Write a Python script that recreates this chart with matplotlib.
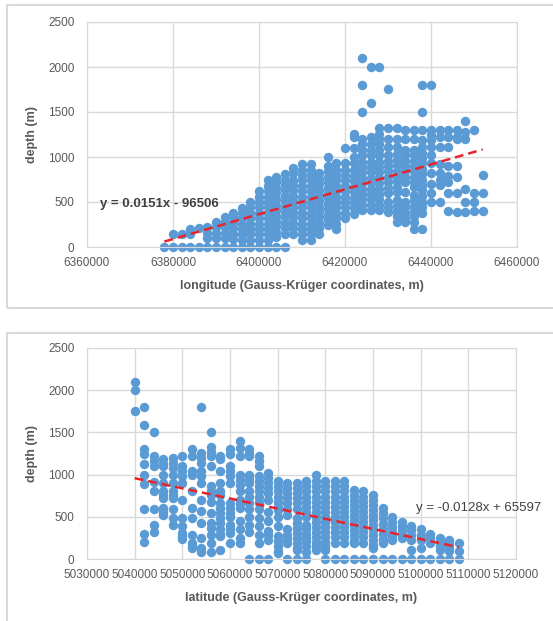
import numpy as np
import matplotlib
matplotlib.use("Agg")
import matplotlib.pyplot as plt
from matplotlib.patches import Rectangle

plt.rcParams['font.family'] = ['Liberation Sans', 'DejaVu Sans']

# top panel: longitude columns and the depths seen in each column
lon_x = [6378000, 6380000, 6382000, 6384000, 6386000, 6388000, 6390000, 6392000,
         6394000, 6396000, 6398000, 6400000, 6402000, 6404000, 6406000, 6408000,
         6410000, 6412000, 6414000, 6416000, 6418000, 6420000, 6422000, 6424000,
         6426000, 6428000, 6430000, 6432000, 6434000, 6436000, 6438000, 6440000,
         6442000, 6444000, 6446000, 6448000, 6450000, 6452000]
lon_depth = [
    [0],
    [0, 150],
    [0, 140],
    [0, 150, 200],
    [0, 210],
    [0, 100, 160, 220],
    [0, 100, 160, 220, 280],
    [0, 100, 160, 220, 280, 330],
    [0, 90, 150, 210, 270, 330, 380],
    [0, 80, 140, 200, 260, 320, 380, 430],
    [0, 80, 140, 200, 260, 320, 380, 440, 500],
    [0, 80, 140, 200, 260, 320, 380, 440, 500, 560, 620],
    [0, 80, 140, 200, 260, 320, 380, 440, 500, 560, 620, 680, 740],
    [0, 110, 170, 230, 290, 350, 410, 470, 530, 600, 660, 720, 780],
    [0, 150, 210, 270, 330, 390, 450, 510, 570, 630, 690, 750, 810],
    [150, 210, 270, 330, 390, 450, 510, 570, 630, 690, 750, 820, 880],
    [80, 140, 200, 260, 320, 380, 440, 500, 560, 620, 680, 740, 800, 860, 920],
    [80, 140, 200, 260, 320, 380, 440, 500, 560, 620, 680, 740, 800, 860, 920],
    [150, 210, 270, 330, 390, 450, 510, 570, 630, 700, 760, 820],
    [240, 300, 360, 420, 480, 540, 600, 660, 720, 780, 840, 900, 1000],
    [200, 260, 320, 380, 440, 500, 560, 620, 680, 740, 800, 860, 930],
    [320, 380, 440, 500, 560, 620, 680, 740, 800, 860, 930, 1100],
    [370, 430, 490, 550, 610, 670, 730, 790, 860, 930, 1000, 1100, 1220, 1260],
    [410, 470, 530, 590, 650, 710, 770, 830, 890, 950, 1020, 1080, 1140, 1200, 1500, 1800, 2100],
    [410, 470, 530, 590, 650, 710, 770, 830, 890, 950, 1020, 1080, 1140, 1220, 1600, 2000],
    [410, 470, 530, 590, 650, 710, 770, 830, 890, 950, 1020, 1080, 1140, 1200, 1260, 1320, 2000],
    [390, 440, 500, 600, 660, 720, 780, 840, 900, 960, 1020, 1110, 1200, 1320, 1750],
    [280, 340, 400, 460, 520, 610, 670, 730, 790, 850, 910, 970, 1030, 1110, 1200, 1320],
    [280, 320, 380, 440, 500, 610, 720, 780, 840, 900, 960, 1020, 1080, 1200, 1300],
    [200, 280, 340, 400, 460, 520, 580, 670, 720, 780, 840, 900, 960, 1020, 1080, 1200, 1300],
    [200, 380, 440, 500, 570, 630, 690, 750, 810, 870, 930, 990, 1050, 1110, 1190, 1300, 1500, 1800],
    [500, 600, 700, 820, 930, 1020, 1110, 1190, 1250, 1300, 1800],
    [500, 690, 740, 820, 920, 1110, 1220, 1300],
    [400, 600, 720, 790, 900, 1110, 1220, 1300],
    [390, 600, 780, 900, 1200, 1220, 1300],
    [390, 500, 650, 1200, 1280, 1400],
    [400, 500, 600, 1300],
    [400, 600, 800],
]

# bottom panel: latitude columns and depths
lat_x = [5040000, 5042000, 5044000, 5046000, 5048000, 5050000, 5052000, 5054000,
         5056000, 5058000, 5060000, 5062000, 5064000, 5066000, 5068000, 5070000,
         5072000, 5074000, 5076000, 5078000, 5080000, 5082000, 5084000, 5086000,
         5088000, 5090000, 5092000, 5094000, 5096000, 5098000, 5100000, 5102000,
         5104000, 5106000, 5108000]
lat_depth = [
    [2100, 2000, 1750],
    [1800, 1590, 1300, 1250, 1120, 1000, 890, 590, 300, 200],
    [1500, 1220, 1160, 1100, 910, 800, 590, 400, 320],
    [1180, 1130, 1100, 1000, 900, 800, 760, 720, 600, 560, 520],
    [1200, 1140, 1080, 1000, 900, 800, 760, 720, 590, 490, 400],
    [1220, 1100, 1040, 980, 900, 700, 490, 390, 310, 270, 240],
    [1300, 1220, 1040, 1000, 800, 600, 490, 290, 190, 150, 130],
    [1800, 1260, 1200, 1140, 1040, 980, 900, 700, 570, 430, 250, 130, 80],
    [1500, 1330, 1270, 1220, 1100, 860, 810, 760, 680, 550, 430, 370, 290, 190, 80],
    [1220, 1180, 1040, 900, 800, 760, 660, 600, 540, 480, 430, 350, 300, 270, 110],
    [1300, 1250, 1100, 1040, 980, 900, 660, 600, 550, 500, 400, 350, 310, 190],
    [1400, 1310, 1220, 1000, 940, 880, 800, 700, 650, 600, 450, 350, 250, 190],
    [1300, 1260, 1220, 1000, 950, 900, 800, 740, 660, 590, 500, 400, 320, 0],
    [1220, 1160, 1100, 980, 920, 860, 800, 740, 680, 590, 490, 390, 290, 190, 0],
    [1020, 960, 900, 840, 780, 700, 560, 450, 330, 280, 230, 0],
    [920, 860, 800, 740, 680, 620, 580, 500, 390, 270, 210, 150, 100, 70],
    [900, 840, 780, 720, 660, 590, 520, 350, 290, 240, 190, 0],
    [900, 840, 780, 720, 660, 590, 490, 430, 370, 310, 250, 190, 130, 110, 0],
    [920, 860, 800, 740, 680, 620, 560, 500, 400, 350, 300, 250, 210, 150, 80, 0],
    [1000, 920, 860, 800, 740, 680, 620, 560, 500, 440, 380, 320, 260, 200, 150, 110],
    [920, 860, 800, 740, 680, 620, 560, 500, 440, 380, 320, 260, 200, 150, 110, 0],
    [920, 860, 800, 740, 680, 620, 560, 500, 440, 380, 320, 260, 190, 0],
    [920, 860, 800, 740, 680, 620, 560, 500, 440, 380, 320, 260, 190, 0],
    [820, 760, 700, 640, 580, 520, 460, 400, 340, 280, 230, 190, 0],
    [800, 740, 680, 620, 560, 500, 440, 380, 320, 260, 190, 0],
    [760, 700, 640, 580, 520, 460, 400, 340, 280, 220, 170, 130, 0],
    [600, 540, 480, 420, 360, 300, 240, 190, 0],
    [500, 440, 380, 320, 270, 230, 0],
    [440, 390, 340, 290, 250, 0],
    [390, 340, 290, 230, 110, 0],
    [350, 290, 230, 130, 0],
    [300, 250, 190, 0],
    [250, 200, 150, 110, 0],
    [230, 180, 130, 90, 0],
    [190, 90, 0],
]

blue = '#5B9BD5'
grid_c = '#D9D9D9'
txt_c = '#595959'


def flatten(xs, ds):
    px, py = [], []
    for x, col in zip(xs, ds):
        for d in col:
            px.append(x)
            py.append(d)
    return np.array(px, float), np.array(py, float)


def style(ax, xlim, xstep, xlabel):
    ax.set_xlim(*xlim)
    ax.set_ylim(0, 2500)
    ax.set_xticks(np.arange(xlim[0], xlim[1] + 1, xstep))
    ax.set_yticks(np.arange(0, 2501, 500))
    ax.ticklabel_format(style='plain', useOffset=False)
    ax.grid(True, color=grid_c, linewidth=1)
    ax.set_axisbelow(True)
    for s in ax.spines.values():
        s.set_color(grid_c)
    ax.tick_params(length=0, labelsize=8.5, labelcolor=txt_c)
    ax.tick_params(axis='y', pad=9)
    ax.tick_params(axis='x', pad=7)
    ax.set_xlabel(xlabel, fontsize=9, fontweight='bold', color=txt_c, labelpad=8)
    ax.set_ylabel('depth (m)', fontsize=9, fontweight='bold', color=txt_c, labelpad=7)


fig = plt.figure(figsize=(5.53, 6.21), dpi=100)
fig.patches.append(Rectangle((7 / 553, 1 - 308 / 621), 1.0, 303 / 621, transform=fig.transFigure,
                             fill=False, edgecolor=grid_c, linewidth=1.5))
fig.patches.append(Rectangle((7 / 553, -0.05), 1.0, 1 - 333 / 621 + 0.05, transform=fig.transFigure,
                             fill=False, edgecolor=grid_c, linewidth=1.5))

# longitude panel
ax1 = fig.add_axes([87 / 553, 1 - 247 / 621, 430 / 553, 225 / 621])
x1, y1 = flatten(lon_x, lon_depth)
ax1.scatter(x1, y1, s=46, color=blue, linewidths=0, zorder=2, clip_on=False)
k1, b1 = np.polyfit(x1, y1, 1)
lx = np.array([x1.min(), x1.max()])
ax1.plot(lx, k1 * lx + b1, color='#E8232A', linewidth=1.8, linestyle=(0, (3.5, 2)), zorder=3)
style(ax1, (6360000, 6460000), 20000, 'longitude (Gauss-Kr\u00fcger coordinates, m)')
ax1.text(6363000, 480, 'y = 0.0151x - 96506', fontsize=9.5, fontweight='bold',
         color='#404040', va='center')

# latitude panel
ax2 = fig.add_axes([87 / 553, 1 - 559 / 621, 429 / 553, 211 / 621])
x2, y2 = flatten(lat_x, lat_depth)
ax2.scatter(x2, y2, s=46, color=blue, linewidths=0, zorder=2, clip_on=False)
k2, b2 = np.polyfit(x2, y2, 1)
lx = np.array([x2.min(), x2.max()])
ax2.plot(lx, k2 * lx + b2, color='#E8232A', linewidth=1.8, linestyle=(0, (3.5, 2)), zorder=3)
style(ax2, (5030000, 5120000), 10000, 'latitude (Gauss-Kr\u00fcger coordinates, m)')
ax2.text(5099000, 610, 'y = -0.0128x + 65597', fontsize=9.5, color='#404040', va='center')

fig.savefig('out.png', dpi=100)
